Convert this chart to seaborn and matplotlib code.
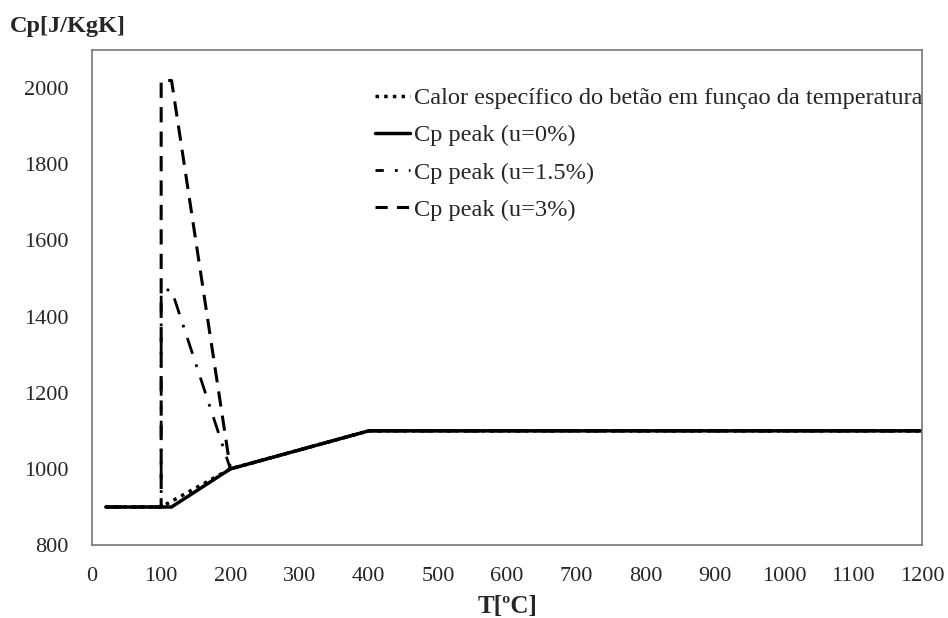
import pandas as pd
import seaborn as sns
import matplotlib.pyplot as plt
from matplotlib.lines import Line2D

# temperatures [C] and specific heat [J/KgK]
t_ref = [20, 100, 200, 400, 1200]
cp_ref = [900, 900, 1000, 1100, 1100]

t_u0 = [20, 115, 200, 400, 1200]
cp_u0 = [900, 900, 1000, 1100, 1100]

t_u15 = [20, 100, 100, 115, 200, 400, 1200]
cp_u15 = [900, 900, 1470, 1470, 1000, 1100, 1100]

t_u3 = [20, 100, 100, 115, 200, 400, 1200]
cp_u3 = [900, 900, 2020, 2020, 1000, 1100, 1100]

labels = ["Calor específico do betão em funçao da temperatura",
          "Cp peak (u=0%)", "Cp peak (u=1.5%)", "Cp peak (u=3%)"]

sns.set_style("white")
plt.rcParams['font.family'] = ['Liberation Serif', 'DejaVu Serif']

fig, ax = plt.subplots(figsize=(9.48, 6.18), dpi=100)

series = [(t_u3, cp_u3, (0, (5, 3)), 2.2),
          (t_u15, cp_u15, (0, (6, 4, 1, 4)), 2.0),
          (t_ref, cp_ref, (0, (1, 1.5)), 2.5),
          (t_u0, cp_u0, '-', 2.5)]
for t, cp, ls, lw in series:
    sns.lineplot(x=t, y=cp, ax=ax, color='black', linestyle=ls, linewidth=lw,
                 sort=False, estimator=None)

handles = [Line2D([], [], color='black', linestyle=(0, (1, 1.5)), lw=2.5),
           Line2D([], [], color='black', linestyle='-', lw=2.5),
           Line2D([], [], color='black', linestyle=(0, (3, 4, 1, 4)), lw=2.0),
           Line2D([], [], color='black', linestyle=(0, (4, 3)), lw=2.2)]
ax.legend(handles, labels, loc='upper right', frameon=False, fontsize=17.6,
          handlelength=1.45, handletextpad=0.15, labelspacing=0.62,
          borderaxespad=0, bbox_to_anchor=(1.012, 0.945))

ax.set_xlim(0, 1200)
ax.set_ylim(800, 2100)
ax.set_xticks(range(0, 1201, 100))
ax.set_yticks(range(800, 2001, 200))
ax.tick_params(direction='in', length=7, labelsize=16, color='#555555')
ax.tick_params(axis='y', pad=17)
ax.tick_params(axis='x', pad=16)
for s in ax.spines.values():
    s.set_color('#777777')
    s.set_linewidth(1.2)

ax.set_xlabel("T[ºC]", fontsize=18, fontweight='bold', labelpad=6.5)
fig.text(0.010, 0.948, "Cp[J/KgK]", fontsize=17.5, fontweight='bold')

plt.subplots_adjust(left=0.097, right=0.973, top=0.919, bottom=0.118)
plt.savefig("out.png", dpi=100)
